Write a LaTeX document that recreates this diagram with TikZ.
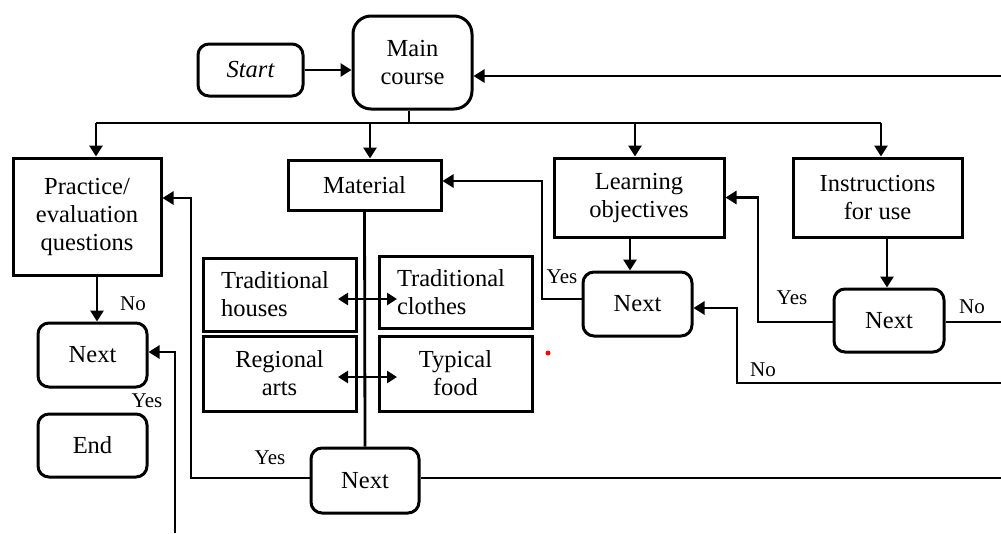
\documentclass[tikz,border=0pt]{standalone}
\usepackage{fontspec}
\setmainfont{Liberation Serif}
\usetikzlibrary{arrows.meta}
\tikzset{
  box/.style={draw, line width=3pt, inner sep=0pt, align=center,
    font=\fontsize{24.5}{28}\selectfont},
  rbox/.style={box, rounded corners=11pt},
  lbl/.style={inner sep=0pt, font=\fontsize{21}{23}\selectfont},
  conn/.style={line width=2.8pt},
  arr/.style={conn, -{Triangle[length=11pt,width=13pt]}},
  darr/.style={conn, {Triangle[length=10pt,width=12pt]}-{Triangle[length=10pt,width=12pt]}},
}
\begin{document}
\begin{tikzpicture}[x=1pt,y=-1pt]
\useasboundingbox (0,0) rectangle (1001,533);
% nodes
\node[rbox, minimum width=105pt, minimum height=52pt] (start) at (250.5,70) {\itshape Start};
\node[rbox, rounded corners=18pt, minimum width=119pt, minimum height=93pt] (main) at (412.5,62.5) {Main\\course};
\node[box, minimum width=148pt, minimum height=117pt] (prac) at (87,216.5) {Practice/\\evaluation\\questions};
\node[box, minimum width=153pt, minimum height=50pt] (mat) at (364.5,185) {Material};
\node[box, minimum width=170pt, minimum height=79pt] (lo) at (639,197.5) {Learning\\objectives};
\node[box, minimum width=169pt, minimum height=79pt] (ins) at (877.5,197.5) {Instructions\\for use};
\node[rbox, minimum width=110pt, minimum height=63pt] (nextR) at (889,320.5) {Next};
\node[rbox, minimum width=109pt, minimum height=64pt] (nextM) at (637.5,304) {Next};
\node[rbox, minimum width=109pt, minimum height=64pt] (nextL) at (92.5,355) {Next};
\node[rbox, minimum width=109pt, minimum height=63pt] (endn) at (92.5,445.5) {End};
\node[rbox, minimum width=108pt, minimum height=65pt] (nextB) at (365,480.5) {Next};
\node[box, minimum width=153pt, minimum height=73pt, text width=117pt, align=left] (th) at (279.5,294.5) {Traditional\\houses};
\node[box, minimum width=153pt, minimum height=75pt] (ra) at (279.5,373.5) {Regional\\arts};
\node[box, minimum width=153pt, minimum height=72pt, text width=117pt, align=left] (tc) at (455.5,292) {Traditional\\clothes};
\node[box, minimum width=153pt, minimum height=75pt] (tf) at (455.5,373.5) {Typical\\food};
% helper coordinates
\coordinate (b0) at (409,123);
\coordinate (b1) at (96,123);
\coordinate (b2) at (370,123);
\coordinate (b3) at (635,123);
\coordinate (b4) at (881,123);
\coordinate (r1) at (1001,76);
\coordinate (r2) at (1001,478);
\coordinate (r3) at (1001,383);
\coordinate (r4) at (1001,322);
\coordinate (p1) at (97,0);
\coordinate (p2) at (630,0);
\coordinate (p3) at (887,0);
\coordinate (c1) at (175,533);
\coordinate (c2) at (191,478);
\coordinate (c3) at (542,299);
\coordinate (c4) at (737,383);
\coordinate (c5) at (758,322);
\coordinate (d1a) at (338,299);
\coordinate (d1b) at (397,299);
\coordinate (d2a) at (338,377);
\coordinate (d2b) at (397,377);
% connectors
\draw[arr] (start.east) -- (start.east -| main.west);
\draw[arr] (r1) -- (r1 -| main.east);
\draw[conn] (main.south -| b0) -- (b0);
\draw[conn] (b1) -- (b4);
\draw[arr] (b1) -- (b1 |- prac.north);
\draw[arr] (b2) -- (b2 |- mat.north);
\draw[arr] (b3) -- (b3 |- lo.north);
\draw[arr] (b4) -- (b4 |- ins.north);
\draw[conn] (mat.south) -- (nextB.north);
\draw[darr] (d1a) -- (d1b);
\draw[darr] (d2a) -- (d2b);
\draw[arr] (prac.south -| p1) -- (nextL.north -| p1);
\draw[arr] (c1) |- ([yshift=3pt]nextL.east);
\draw[arr] ([yshift=2.5pt]nextB.west) -- (c2) |- ([yshift=18.5pt]prac.east);
\draw[conn] ([yshift=2.5pt]nextB.east) -- (r2);
\draw[arr] (lo.south -| p2) -- (nextM.north -| p2);
\draw[arr] ([yshift=5pt]nextM.west) -- (c3) |- ([yshift=4pt]mat.east);
\draw[arr] (r3) -- (c4) |- ([yshift=-4pt]nextM.east);
\draw[arr] (ins.south -| p3) -- (nextR.north -| p3);
\draw[arr] ([yshift=-1.5pt]nextR.west) -- (c5) |- (lo.east);
\draw[conn] ([yshift=-1.5pt]nextR.east) -- (r4);
% labels
\node[lbl] (l1) at (133,304) {No};
\node[lbl] (l2) at (147,401) {Yes};
\node[lbl] (l3) at (270,458) {Yes};
\node[lbl] (l4) at (562,277) {Yes};
\node[lbl] (l5) at (763,370) {No};
\node[lbl] (l6) at (792,298) {Yes};
\node[lbl] (l7) at (972,307) {No};
% red dot
\fill[red] (548,353) circle (2.5pt);
\end{tikzpicture}
\end{document}
